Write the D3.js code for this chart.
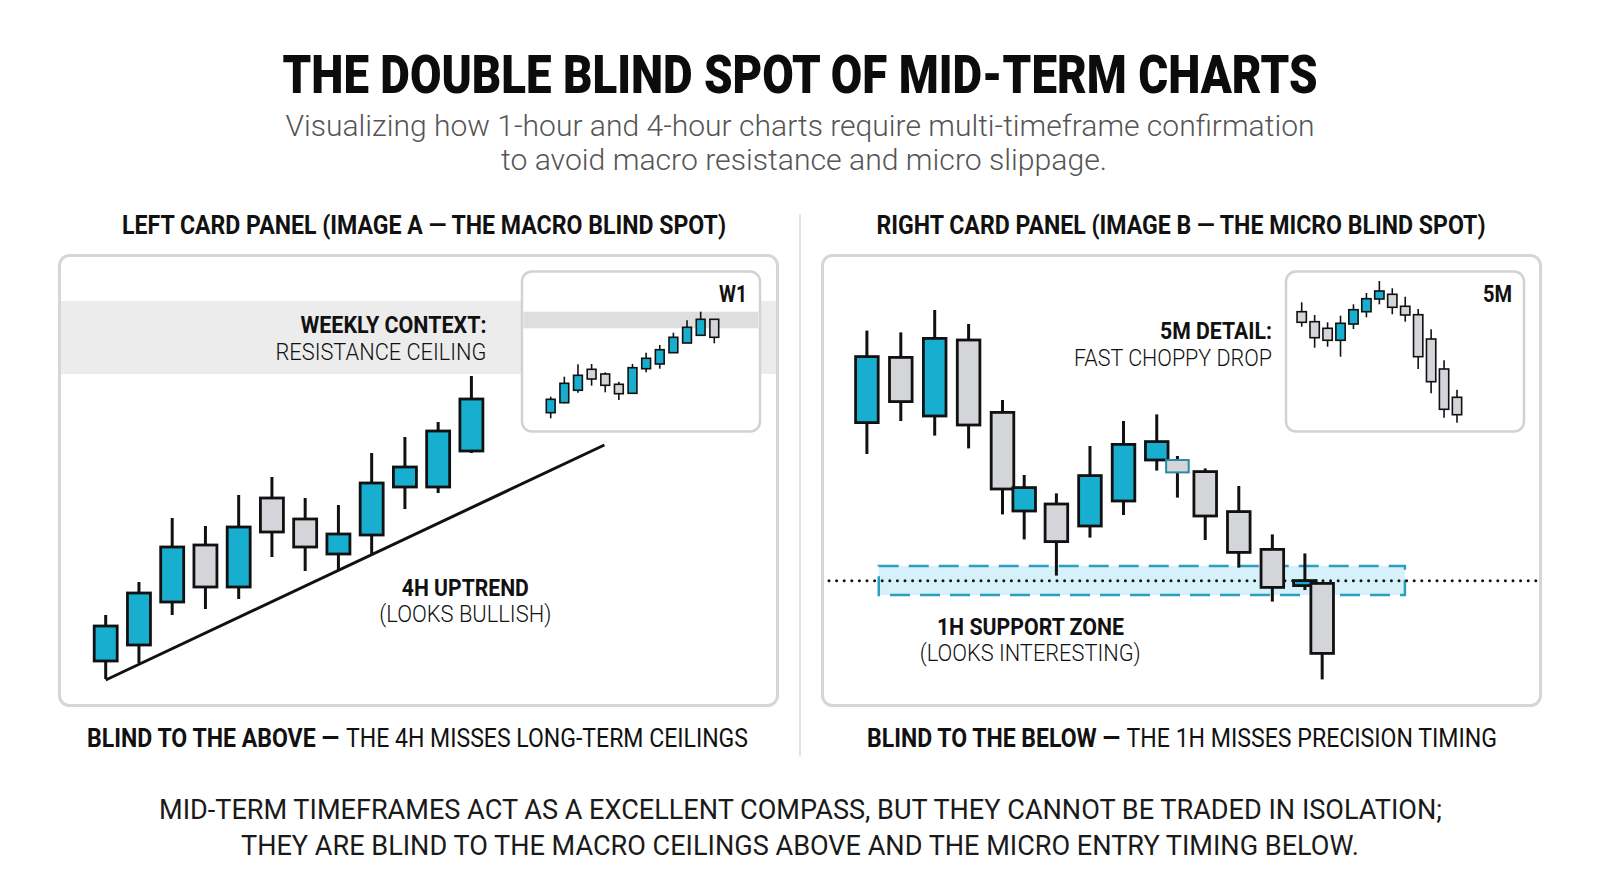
<!DOCTYPE html>
<html>
<head>
<meta charset="utf-8">
<script src="https://cdn.jsdelivr.net/npm/d3@7"></script>
<style>
  html, body { margin: 0; padding: 0; background: #ffffff; }
  svg { display: block; }
</style>
</head>
<body>
<svg id="chart" width="1600" height="893"></svg>
<script>
// ---------------- DATA ----------------
// candles as [open, high, low, close]
const left4H = [
  [19.5, 42.5, 10.5, 37], [27.5, 59, 18.5, 53.5], [49, 91, 42.5, 76.5], [77.5, 87, 45.5, 56.5],
  [56.5, 102.5, 50.5, 86.5], [101, 111.5, 71.5, 84], [90.5, 101, 64.5, 76.5], [73, 97.5, 65, 83],
  [82.5, 123.5, 72.5, 108.5], [106.5, 131.5, 95.5, 116.5], [106.5, 139, 103.5, 134.5], [124.5, 162, 123.5, 150.5]
];
const left4HTrendline = [[0, 10], [15, 127.5]];      // [candle index, price]
const leftResistanceBand = [163, 199.5];             // price range

const w1Candles = [
  [27.3, 43.3, 21.7, 40.7], [37.3, 63.3, 36.7, 56.7], [49.7, 75.7, 47.3, 64.7], [70.7, 76, 54.3, 61],
  [66, 67.7, 47.7, 54.7], [55.7, 58.3, 40, 46.3], [46.7, 76, 46.7, 72.3], [71.3, 87.3, 67.7, 81.7],
  [76, 95, 71.3, 90.3], [87.3, 107.3, 87.3, 102.7], [97, 119.7, 97, 112.7], [104.7, 128.3, 104.7, 120.7],
  [120.7, 120.7, 96.7, 102.7]
];
const w1ResistanceBand = [111.7, 128.3];

const right1H = [
  [138.7, 184.7, 123, 171.7], [171.3, 183.8, 139.5, 149.2], [142, 195, 132.2, 180.8], [180, 188, 125.8, 137.5],
  [143.8, 150, 92.8, 105.5], [94.5, 112.5, 80.3, 106.2], [98, 103.3, 62.2, 79.2], [87, 127, 81.2, 112.2],
  [99.5, 139.5, 92.5, 127.8], [120, 142.8, 114.7, 129.2], [120, 122, 101.2, 113.8], [114.2, 115.8, 80, 92],
  [94.2, 107, 66.2, 73.8], [75.3, 82.8, 49.2, 56.3], [57.2, 73.3, 55, 59.7], [58.3, 58.3, 10.3, 23.3]
];
const right1HSlots = [0, 1, 2, 3, 4, 4.64, 5.59, 6.58, 7.57, 8.55, 9.16, 9.98, 10.97, 11.96, 12.92, 13.43];
const right1HGhost = [10];                           // unconfirmed candle
const supportZone = [52.5, 67];                      // price range
const supportZoneSlots = [0.35, 15.87];
const supportLevel = 59.65;

const m5Candles = [
  [128.3, 137.7, 113.3, 117.7], [118.3, 125, 92.3, 102.3], [111.7, 117.7, 93.3, 99.7], [99.7, 124.3, 83.3, 116.7],
  [116, 135.7, 111, 130.3], [128.3, 147, 122.7, 141.3], [141, 159, 135.7, 149], [145.7, 151.7, 125.7, 132.7],
  [133.7, 143.3, 118.3, 125], [125.3, 131, 71, 83.3], [101, 110.7, 46.7, 58.3], [71, 79.7, 22.3, 30.7],
  [42.7, 50.3, 17.3, 25.3]
];

const titleText = "THE DOUBLE BLIND SPOT OF MID-TERM CHARTS";
const subtitleLines = [
  "Visualizing how 1-hour and 4-hour charts require multi-timeframe confirmation",
  "to avoid macro resistance and micro slippage."
];
const panelHeaders = [
  "LEFT CARD PANEL (IMAGE A \u2014 THE MACRO BLIND SPOT)",
  "RIGHT CARD PANEL (IMAGE B \u2014 THE MICRO BLIND SPOT)"
];
const footerBold = ["BLIND TO THE ABOVE \u2014", "BLIND TO THE BELOW \u2014"];
const footerRegular = ["THE 4H MISSES LONG-TERM CEILINGS", "THE 1H MISSES PRECISION TIMING"];
const conclusionLines = [
  "MID-TERM TIMEFRAMES ACT AS A EXCELLENT COMPASS, BUT THEY CANNOT BE TRADED IN ISOLATION;",
  "THEY ARE BLIND TO THE MACRO CEILINGS ABOVE AND THE MICRO ENTRY TIMING BELOW."
];

// ---------------- STYLE ----------------
const BLUE = "#17aecf";
const GRAY = "#d3d5d9";
const INK = "#111111";
const FONT = "Roboto, 'Noto Sans', sans-serif";

const svg = d3.select("#chart");

function label(g, str, x, y, o) {
  const t = g.append("text")
    .attr("x", x).attr("y", y)
    .attr("font-family", FONT)
    .attr("font-size", o.size)
    .attr("font-weight", o.weight || 400)
    .attr("fill", o.fill || INK)
    .attr("text-anchor", o.anchor || "start")
    .text(str);
  if (o.width) t.attr("textLength", o.width).attr("lengthAdjust", "spacingAndGlyphs");
  return t;
}

function drawCandles(g, data, x, y, o) {
  const c = g.selectAll("g.c").data(data).join("g").attr("class", "c");
  c.append("line")
    .attr("x1", (d, i) => x(o.slots ? o.slots[i] : i))
    .attr("x2", (d, i) => x(o.slots ? o.slots[i] : i))
    .attr("y1", d => y(d[1]))
    .attr("y2", d => y(d[2]))
    .attr("stroke", INK).attr("stroke-width", o.wick);
  c.append("rect")
    .attr("x", (d, i) => x(o.slots ? o.slots[i] : i) - o.w / 2)
    .attr("y", d => y(Math.max(d[0], d[3])))
    .attr("width", o.w)
    .attr("height", d => Math.max(2, Math.abs(y(d[0]) - y(d[3]))))
    .attr("fill", d => d[3] > d[0] ? BLUE : GRAY)
    .attr("stroke", (d, i) => (o.ghost && o.ghost.includes(i)) ? "#2a8ba6" : INK)
    .attr("stroke-width", (d, i) => (o.ghost && o.ghost.includes(i)) ? 2 : o.stroke);
}

// ---------------- HEADER ----------------
label(svg, titleText, 800, 93, { size: 54, weight: 900, anchor: "middle", width: 1035, fill: "#0c0c0c" });
label(svg, subtitleLines[0], 800, 136, { size: 30, weight: 300, anchor: "middle", width: 1029, fill: "#555555" });
label(svg, subtitleLines[1], 804, 170, { size: 30, weight: 300, anchor: "middle", width: 606, fill: "#555555" });
label(svg, panelHeaders[0], 424, 234, { size: 26, weight: 700, anchor: "middle", width: 604 });
label(svg, panelHeaders[1], 1181, 234, { size: 26, weight: 700, anchor: "middle", width: 609 });

// divider
svg.append("line").attr("x1", 800).attr("x2", 800).attr("y1", 214).attr("y2", 756)
  .attr("stroke", "#e2e2e2").attr("stroke-width", 2);

// ---------------- LEFT PANEL ----------------
const L = svg.append("g");
L.append("rect").attr("x", 59.5).attr("y", 255.5).attr("width", 718).attr("height", 450)
  .attr("rx", 10).attr("fill", "#fff").attr("stroke", "#d6d6d6").attr("stroke-width", 3);

const lx = d3.scaleLinear().domain([0, 11]).range([105.7, 471.4]);
const ly = d3.scaleLinear().domain([0, 200]).range([700, 300]);

L.append("rect").attr("x", 61).attr("width", 715)
  .attr("y", ly(leftResistanceBand[1])).attr("height", ly(leftResistanceBand[0]) - ly(leftResistanceBand[1]))
  .attr("fill", "#ececec");

// W1 inset
const wx = d3.scaleLinear().domain([0, 12]).range([550.7, 714.3]);
const wy = d3.scaleLinear().domain([0, 150]).range([440, 290]);
L.append("rect").attr("x", 522).attr("y", 271.5).attr("width", 238).attr("height", 160)
  .attr("rx", 10).attr("fill", "#fff").attr("stroke", "#d2d2d2").attr("stroke-width", 2.5);
L.append("rect").attr("x", 523.5).attr("width", 235)
  .attr("y", wy(w1ResistanceBand[1])).attr("height", wy(w1ResistanceBand[0]) - wy(w1ResistanceBand[1]))
  .attr("fill", "#dedede");
drawCandles(L.append("g"), w1Candles, wx, wy, { w: 8.8, wick: 1.6, stroke: 1.6 });
label(L, "W1", 747, 302, { size: 23, weight: 700, anchor: "end", width: 28 });

label(L, "WEEKLY CONTEXT:", 486.5, 333, { size: 24, weight: 700, anchor: "end", width: 186 });
label(L, "RESISTANCE CEILING", 486.5, 360, { size: 24, weight: 300, anchor: "end", width: 211 });

// trendline
L.append("path").datum(left4HTrendline)
  .attr("d", d3.line().x(d => lx(d[0])).y(d => ly(d[1])))
  .attr("stroke", INK).attr("stroke-width", 3).attr("fill", "none");

drawCandles(L.append("g"), left4H, lx, ly, { w: 23, wick: 3, stroke: 2.8 });

label(L, "4H UPTREND", 465.3, 596, { size: 24, weight: 700, anchor: "middle", width: 127 });
label(L, "(LOOKS BULLISH)", 465.3, 621.5, { size: 24, weight: 300, anchor: "middle", width: 172 });

// ---------------- RIGHT PANEL ----------------
const R = svg.append("g");
R.append("rect").attr("x", 822.5).attr("y", 255.5).attr("width", 718).attr("height", 450)
  .attr("rx", 10).attr("fill", "#fff").attr("stroke", "#d6d6d6").attr("stroke-width", 3);

const rx = d3.scaleLinear().domain([0, 1]).range([866.9, 900.8]);
const ry = d3.scaleLinear().domain([0, 200]).range([700, 300]);

// support zone
R.append("rect")
  .attr("x", rx(supportZoneSlots[0])).attr("width", rx(supportZoneSlots[1]) - rx(supportZoneSlots[0]))
  .attr("y", ry(supportZone[1])).attr("height", ry(supportZone[0]) - ry(supportZone[1]))
  .attr("fill", "#d6f1f9").attr("stroke", "#2c9fc1").attr("stroke-width", 2.5)
  .attr("stroke-dasharray", "20,10");
R.append("line").attr("x1", 829).attr("x2", 1537)
  .attr("y1", ry(supportLevel)).attr("y2", ry(supportLevel))
  .attr("stroke", INK).attr("stroke-width", 3).attr("stroke-linecap", "round")
  .attr("stroke-dasharray", "0,7.6");

// 5M inset
const mx = d3.scaleLinear().domain([0, 12]).range([1301.7, 1457]);
const my = d3.scaleLinear().domain([0, 150]).range([440, 290]);
R.append("rect").attr("x", 1286).attr("y", 271.5).attr("width", 238).attr("height", 160)
  .attr("rx", 10).attr("fill", "#fff").attr("stroke", "#d2d2d2").attr("stroke-width", 2.5);
drawCandles(R.append("g"), m5Candles, mx, my, { w: 9.3, wick: 1.6, stroke: 1.6 });
label(R, "5M", 1512, 302, { size: 23, weight: 700, anchor: "end", width: 29 });

label(R, "5M DETAIL:", 1272, 339, { size: 24, weight: 700, anchor: "end", width: 112 });
label(R, "FAST CHOPPY DROP", 1272, 366, { size: 24, weight: 300, anchor: "end", width: 198 });

drawCandles(R.append("g"), right1H, rx, ry, { w: 22.6, wick: 3, stroke: 2.8, slots: right1HSlots, ghost: right1HGhost });

label(R, "1H SUPPORT ZONE", 1030.4, 635, { size: 24, weight: 700, anchor: "middle", width: 187 });
label(R, "(LOOKS INTERESTING)", 1030.2, 660.5, { size: 24, weight: 300, anchor: "middle", width: 221 });

// ---------------- FOOTERS ----------------
label(svg, footerBold[0], 87, 746.5, { size: 25, weight: 700, width: 252 });
label(svg, footerRegular[0], 346, 746.5, { size: 25, weight: 400, width: 402 });
label(svg, footerBold[1], 867, 746.5, { size: 25, weight: 700, width: 253 });
label(svg, footerRegular[1], 1126.5, 746.5, { size: 25, weight: 400, width: 370.5 });

label(svg, conclusionLines[0], 800.5, 819, { size: 28, weight: 400, anchor: "middle", width: 1283, fill: "#1a1a1a" });
label(svg, conclusionLines[1], 800, 855, { size: 28, weight: 400, anchor: "middle", width: 1118, fill: "#1a1a1a" });
</script>
</body>
</html>
